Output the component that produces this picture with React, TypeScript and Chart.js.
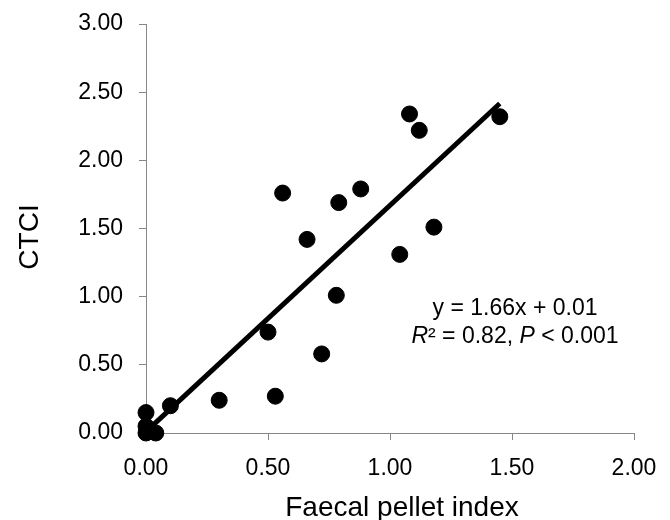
import React, { useEffect, useRef } from "react";
import { Chart, registerables } from "chart.js";

Chart.register(...registerables);

// Data
const pelletIndex = [0.0, 0.0, 0.0, 0.04, 0.10, 0.30, 0.50, 0.53, 0.56, 0.66, 0.72, 0.78, 0.79, 0.88, 1.04, 1.08, 1.12, 1.18, 1.45];
const ctci = [0.15, 0.05, 0.0, 0.0, 0.20, 0.24, 0.74, 0.27, 1.76, 1.42, 0.58, 1.01, 1.69, 1.79, 1.31, 2.34, 2.22, 1.51, 2.32];
const trendX = [0.0, 1.45];
const slope = 1.66;
const intercept = 0.01;
const xTicks = [0, 0.5, 1.0, 1.5, 2.0];
const yTicks = [0, 0.5, 1.0, 1.5, 2.0, 2.5, 3.0];

const FONT = "'Liberation Sans', Arial, sans-serif";
const AXIS_GREY = "#868686";

const overlayPlugin = {
  id: "overlayText",
  afterDraw(chart: any) {
    const ctx = chart.ctx;
    ctx.save();
    ctx.fillStyle = "#000";
    // X axis title
    ctx.font = `28px ${FONT}`;
    ctx.textAlign = "center";
    ctx.textBaseline = "alphabetic";
    ctx.fillText("Faecal pellet index", 402, 516);
    // Y axis title
    ctx.save();
    ctx.translate(38, 237);
    ctx.rotate(-Math.PI / 2);
    ctx.fillText("CTCI", 0, 0);
    ctx.restore();

    // Equation annotation
    const cx = 515;
    ctx.font = `23px ${FONT}`;
    ctx.textAlign = "center";
    ctx.fillText(`y = ${slope.toFixed(2)}x + ${intercept.toFixed(2)}`, cx, 315);

    // Second line with italic parts
    const parts: { t: string; italic: boolean }[] = [
      { t: "R", italic: true },
      { t: "² = 0.82, ", italic: false },
      { t: "P", italic: true },
      { t: " < 0.001", italic: false },
    ];
    let total = 0;
    const widths = parts.map((p) => {
      ctx.font = `${p.italic ? "italic " : ""}23px ${FONT}`;
      const w = ctx.measureText(p.t).width;
      total += w;
      return w;
    });
    let x = cx - total / 2;
    ctx.textAlign = "left";
    parts.forEach((p, i) => {
      ctx.font = `${p.italic ? "italic " : ""}23px ${FONT}`;
      ctx.fillText(p.t, x, 343);
      x += widths[i];
    });
    ctx.restore();
  },
};

export default function App() {
  const canvasRef = useRef<HTMLCanvasElement | null>(null);

  useEffect(() => {
    const canvas = canvasRef.current;
    if (!canvas) return;
    const points = pelletIndex.map((x, i) => ({ x, y: ctci[i] }));
    const trend = trendX.map((x) => ({ x, y: slope * x + intercept }));

    const chart = new Chart(canvas, {
      type: "scatter",
      data: {
        datasets: [
          {
            label: "CTCI",
            data: points,
            backgroundColor: "#000",
            borderColor: "#000",
            pointRadius: 8,
            pointHoverRadius: 8,
            showLine: false,
            clip: false,
            order: 1,
          },
          {
            label: "Trend",
            data: trend,
            showLine: true,
            borderColor: "#000",
            borderWidth: 5,
            pointRadius: 0,
            fill: false,
            clip: false,
            order: 0,
          },
        ],
      },
      options: {
        responsive: false,
        animation: false,
        events: [],
        layout: { padding: { top: 24, right: 36, left: 0, bottom: 0 } },
        plugins: {
          legend: { display: false },
          tooltip: { enabled: false },
          title: { display: false },
        },
        scales: {
          x: {
            type: "linear",
            min: 0,
            max: 2,
            afterBuildTicks: (scale: any) => {
              scale.ticks = xTicks.map((v) => ({ value: v }));
            },
            afterFit: (scale: any) => {
              scale.height = 87;
              scale.paddingLeft = 0;
              scale.paddingRight = 0;
            },
            ticks: {
              color: "#000",
              font: { family: FONT, size: 23 },
              padding: 15,
              maxRotation: 0,
              callback: (v: any) => Number(v).toFixed(2),
            },
            grid: {
              display: true,
              drawOnChartArea: false,
              drawTicks: true,
              tickLength: 7,
              color: AXIS_GREY,
              lineWidth: 1,
            },
            border: { display: true, color: AXIS_GREY, width: 1 },
          },
          y: {
            type: "linear",
            min: 0,
            max: 3,
            afterBuildTicks: (scale: any) => {
              scale.ticks = yTicks.map((v) => ({ value: v }));
            },
            afterFit: (scale: any) => {
              scale.width = 146;
              scale.paddingTop = 0;
              scale.paddingBottom = 0;
            },
            ticks: {
              color: "#000",
              font: { family: FONT, size: 23 },
              padding: 16,
              callback: (v: any) => Number(v).toFixed(2),
            },
            grid: {
              display: true,
              drawOnChartArea: false,
              drawTicks: true,
              tickLength: 7,
              color: AXIS_GREY,
              lineWidth: 1,
            },
            border: { display: true, color: AXIS_GREY, width: 1 },
          },
        },
      },
      plugins: [overlayPlugin],
    });
    return () => chart.destroy();
  }, []);

  return (
    <div style={{ position: "fixed", left: 0, top: 0, width: 670, height: 520, background: "#fff" }}>
      <canvas ref={canvasRef} width={670} height={520} style={{ display: "block" }} />
    </div>
  );
}
